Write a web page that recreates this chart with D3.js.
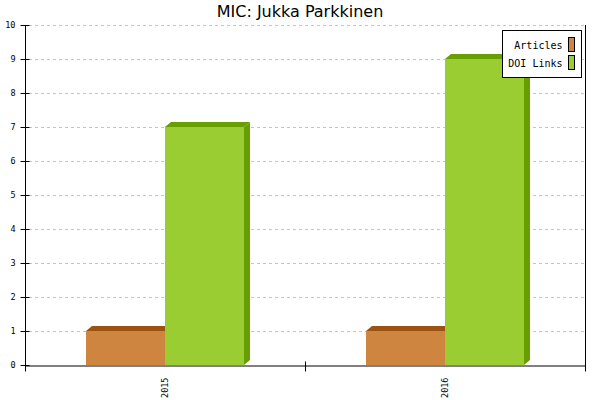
<!DOCTYPE html>
<html>
<head>
<meta charset="utf-8">
<script src="https://cdn.jsdelivr.net/npm/d3@7"></script>
<style>
  body { margin: 0; background: #fff; }
  .grid line { stroke: #c4c4c4; stroke-dasharray: 3,3; }
  .axis text { font-family: "DejaVu Sans Mono", monospace; font-size: 8.5px; fill: #000; }
  .axis path, .axis line { stroke: #000; }
</style>
</head>
<body>
<svg id="chart" width="600" height="400"></svg>
<script>
const categories = ["2015", "2016"];
const seriesNames = ["Articles", "DOI Links"];
const articles = [1, 1];
const doiLinks = [7, 9];
const yTickLabels = [0, 1, 2, 3, 4, 5, 6, 7, 8, 9, 10];
const frontColors = ["#cd853f", "#9acd32"];
const darkColors = ["#9c5312", "#699e00"];

const svg = d3.select("#chart");
const plotLeft = 25, plotRight = 585, plotTop = 25, plotBottom = 365;
const dx = 6, dy = 5;

const x = d3.scaleBand().domain(categories).range([plotLeft, plotRight]);
const xs = d3.scaleBand().domain(seriesNames).range([61, 219]);
const y = d3.scaleLinear().domain([0, 10]).range([plotBottom, plotTop]);

svg.append("text")
    .attr("x", 300)
    .attr("y", 17)
    .attr("text-anchor", "middle")
    .attr("font-family", "DejaVu Sans, sans-serif")
    .attr("font-size", "16px")
    .text("MIC: Jukka Parkkinen");

// grid
svg.append("g")
    .attr("class", "grid")
    .selectAll("line")
    .data(yTickLabels.filter(d => d > 0))
    .enter().append("line")
    .attr("x1", plotLeft + 4)
    .attr("x2", plotRight)
    .attr("y1", d => y(d) + 0.5)
    .attr("y2", d => y(d) + 0.5);

// bars
const rows = categories.map((c, i) => ({ category: c, values: [articles[i], doiLinks[i]] }));
const groups = svg.append("g").selectAll("g")
    .data(rows)
    .enter().append("g")
    .attr("transform", d => "translate(" + x(d.category) + ",0)");

seriesNames.forEach(function (name, s) {
    const bw = xs.bandwidth();
    const bar = groups.append("g");
    // side
    bar.append("path")
        .attr("fill", darkColors[s])
        .attr("d", function (d) {
            const x0 = xs(name) + bw, yt = y(d.values[s]);
            return "M" + x0 + "," + yt + "L" + (x0 + dx) + "," + (yt - dy) +
                "L" + (x0 + dx) + "," + (plotBottom - dy) + "L" + x0 + "," + plotBottom + "Z";
        });
    // top
    bar.append("path")
        .attr("fill", darkColors[s])
        .attr("d", function (d) {
            const x0 = xs(name), yt = y(d.values[s]);
            return "M" + x0 + "," + yt + "L" + (x0 + dx) + "," + (yt - dy) +
                "L" + (x0 + bw + dx) + "," + (yt - dy) + "L" + (x0 + bw) + "," + yt + "Z";
        });
    // front
    bar.append("rect")
        .attr("fill", frontColors[s])
        .attr("x", xs(name))
        .attr("y", d => y(d.values[s]))
        .attr("width", bw)
        .attr("height", d => plotBottom - y(d.values[s]));
});

// y axis
svg.append("g")
    .attr("class", "axis")
    .attr("transform", "translate(" + (plotLeft + 0.5) + ",0)")
    .call(d3.axisLeft(y).tickValues(yTickLabels).tickSize(5).tickPadding(5).tickSizeOuter(0))
    .call(g => g.selectAll(".tick line").attr("x2", -5).attr("x1", 4))
    .call(g => g.select(".domain").attr("d", "M0," + plotTop + "V" + (plotBottom + 6)));

// x axis
const xAxis = svg.append("g")
    .attr("class", "axis")
    .attr("transform", "translate(0," + (plotBottom + 0.5) + ")")
    .call(d3.axisBottom(x).tickSize(0).tickSizeOuter(0));
xAxis.selectAll("text")
    .attr("transform", "rotate(-90)")
    .attr("x", -12)
    .attr("y", 0)
    .attr("dy", "0.35em")
    .attr("text-anchor", "end");

const bounds = categories.map(c => x(c)).concat([plotRight]);
xAxis.selectAll(".bound")
    .data(bounds)
    .enter().append("line")
    .attr("class", "bound")
    .attr("x1", d => d + 0.5)
    .attr("x2", d => d + 0.5)
    .attr("y1", (d, i) => (i === 0 || i === bounds.length - 1) ? 0 : -4)
    .attr("y2", 6);

// right border
svg.append("line")
    .attr("x1", plotRight + 0.5).attr("x2", plotRight + 0.5)
    .attr("y1", plotTop).attr("y2", plotBottom + 6)
    .attr("stroke", "#000");

// legend
const legend = svg.append("g").attr("transform", "translate(502.5,30.5)");
legend.append("rect")
    .attr("width", 79).attr("height", 47)
    .attr("fill", "#fff").attr("stroke", "#000");
const items = legend.selectAll(".item")
    .data(seriesNames)
    .enter().append("g")
    .attr("class", "item")
    .attr("transform", (d, i) => "translate(0," + (i * 18) + ")");
items.append("text")
    .attr("x", 60)
    .attr("y", 18.5)
    .attr("text-anchor", "end")
    .attr("font-family", "DejaVu Sans Mono, monospace")
    .attr("font-size", "10px")
    .text(d => d);
items.append("rect")
    .attr("x", 66).attr("y", 7)
    .attr("width", 6).attr("height", 14)
    .attr("fill", (d, i) => frontColors[i])
    .attr("stroke", "#000");
</script>
</body>
</html>
